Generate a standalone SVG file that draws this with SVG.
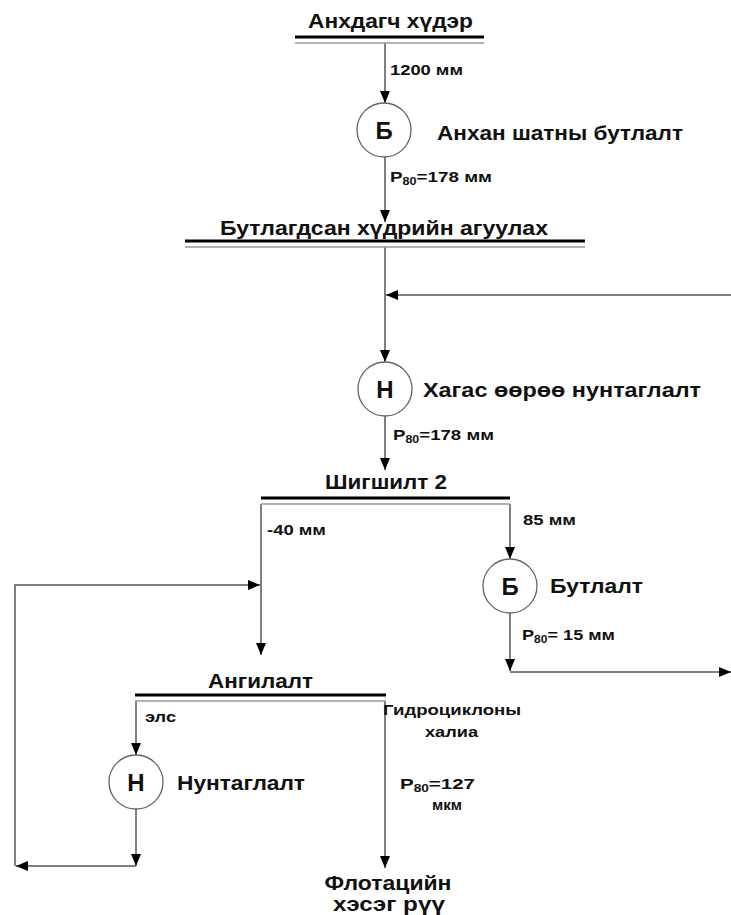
<svg xmlns="http://www.w3.org/2000/svg" width="731" height="915" viewBox="0 0 731 915">
<defs>
<marker id="ah" markerWidth="12" markerHeight="11" refX="12" refY="5" orient="auto" markerUnits="userSpaceOnUse" viewBox="0 0 12 10"><path d="M0,0 L12,5 L0,10 Z" fill="#000"/></marker>
<style>
.t{font-family:"Liberation Sans",Arial,sans-serif;font-weight:bold;fill:#111}
.big{font-size:20px}
.sm{font-size:14px}
.p{font-size:15px}
.sub{font-size:10px}
.let{font-size:24px}
.c{fill:#fff;stroke:#666;stroke-width:1.3}
.ln{fill:none;stroke:#555;stroke-width:1.5}
.a{marker-end:url(#ah)}
.thick{stroke:#000;stroke-width:3}
.thin{stroke:#999;stroke-width:1.6}
</style>
</defs>
<rect width="731" height="915" fill="#fff"/>

<g id="connectors">
<path class="ln a" d="M385,43 V103"/>
<path class="ln a" d="M385,157 V222"/>
<path class="ln a" d="M385,247 V362"/>
<path class="ln a" d="M731,295 H386"/>
<path class="ln a" d="M385,416 V470"/>
<path class="ln a" d="M261,504 V655"/>
<path class="ln a" d="M510,504 V559"/>
<path class="ln a" d="M510,613 V671"/>
<path class="ln a" d="M510,672 H731"/>
<path class="ln a" d="M15,866 V585 H260"/>
<path class="ln a" d="M136,701 V755"/>
<path class="ln a" d="M136,809 V866"/>
<path class="ln a" d="M136,866 H16"/>
<path class="ln a" d="M385,701 V868"/>
</g>

<g id="n-raw-ore">
<line class="thick" x1="295" y1="37" x2="484" y2="37"/>
<line class="thin" x1="295" y1="43" x2="484" y2="43"/>
<text class="t big" x="308" y="28" textLength="165" lengthAdjust="spacingAndGlyphs">Анхдагч хүдэр</text>
<text class="t sm" x="390" y="75" textLength="73" lengthAdjust="spacingAndGlyphs">1200 мм</text>
</g>

<g id="n-primary-crush">
<circle class="c" cx="384" cy="130" r="27"/>
<text class="t let" x="384" y="139" text-anchor="middle">Б</text>
<text class="t big" x="437" y="140" textLength="246" lengthAdjust="spacingAndGlyphs">Анхан шатны бутлалт</text>
<text class="t p" x="390" y="182" textLength="102" lengthAdjust="spacingAndGlyphs">P<tspan class="sub" dy="3">80</tspan><tspan dy="-3">=178 мм</tspan></text>
</g>

<g id="n-stockpile">
<line class="thick" x1="185" y1="241" x2="585" y2="241"/>
<line class="thin" x1="185" y1="247" x2="585" y2="247"/>
<text class="t big" x="220" y="235" textLength="328" lengthAdjust="spacingAndGlyphs">Бутлагдсан хүдрийн агуулах</text>
</g>

<g id="n-sag">
<circle class="c" cx="385" cy="389" r="27"/>
<text class="t let" x="385" y="398" text-anchor="middle">Н</text>
<text class="t big" x="423" y="397" textLength="278" lengthAdjust="spacingAndGlyphs">Хагас өөрөө нунтаглалт</text>
<text class="t p" x="393" y="440" textLength="101" lengthAdjust="spacingAndGlyphs">P<tspan class="sub" dy="3">80</tspan><tspan dy="-3">=178 мм</tspan></text>
</g>

<g id="n-screen2">
<line class="thick" x1="261" y1="498" x2="510" y2="498"/>
<line class="thin" x1="261" y1="504" x2="510" y2="504"/>
<text class="t big" x="325" y="489" textLength="122" lengthAdjust="spacingAndGlyphs">Шигшилт 2</text>
<text class="t sm" x="267" y="535" textLength="59" lengthAdjust="spacingAndGlyphs">-40 мм</text>
<text class="t sm" x="523" y="525" textLength="53" lengthAdjust="spacingAndGlyphs">85 мм</text>
</g>

<g id="n-crush">
<circle class="c" cx="510" cy="586" r="27"/>
<text class="t let" x="510" y="595" text-anchor="middle">Б</text>
<text class="t big" x="550" y="593" textLength="93" lengthAdjust="spacingAndGlyphs">Бутлалт</text>
<text class="t p" x="522" y="640" textLength="93" lengthAdjust="spacingAndGlyphs">P<tspan class="sub" dy="3">80</tspan><tspan dy="-3">= 15 мм</tspan></text>
</g>

<g id="n-classify">
<line class="thick" x1="135" y1="695" x2="386" y2="695"/>
<line class="thin" x1="135" y1="701" x2="386" y2="701"/>
<text class="t big" x="208" y="688" textLength="105" lengthAdjust="spacingAndGlyphs">Ангилалт</text>
<text class="t sm" x="145" y="722" textLength="31" lengthAdjust="spacingAndGlyphs">элс</text>
<text class="t sm" x="383" y="715" textLength="138" lengthAdjust="spacingAndGlyphs">Гидроциклоны</text>
<text class="t sm" x="425" y="737" textLength="53" lengthAdjust="spacingAndGlyphs">халиа</text>
<text class="t p" x="400" y="789" textLength="75" lengthAdjust="spacingAndGlyphs">P<tspan class="sub" dy="3">80</tspan><tspan dy="-3">=127</tspan></text>
<text class="t sm" x="432" y="810" textLength="30" lengthAdjust="spacingAndGlyphs">мкм</text>
</g>

<g id="n-grind">
<circle class="c" cx="136" cy="782" r="27"/>
<text class="t let" x="136" y="791" text-anchor="middle">Н</text>
<text class="t big" x="177" y="790" textLength="128" lengthAdjust="spacingAndGlyphs">Нунтаглалт</text>
</g>

<g id="n-flotation">
<text class="t big" x="388" y="890" text-anchor="middle" textLength="127" lengthAdjust="spacingAndGlyphs">Флотацийн</text>
<text class="t big" x="389" y="911" text-anchor="middle" textLength="112" lengthAdjust="spacingAndGlyphs">хэсэг рүү</text>
</g>
</svg>
